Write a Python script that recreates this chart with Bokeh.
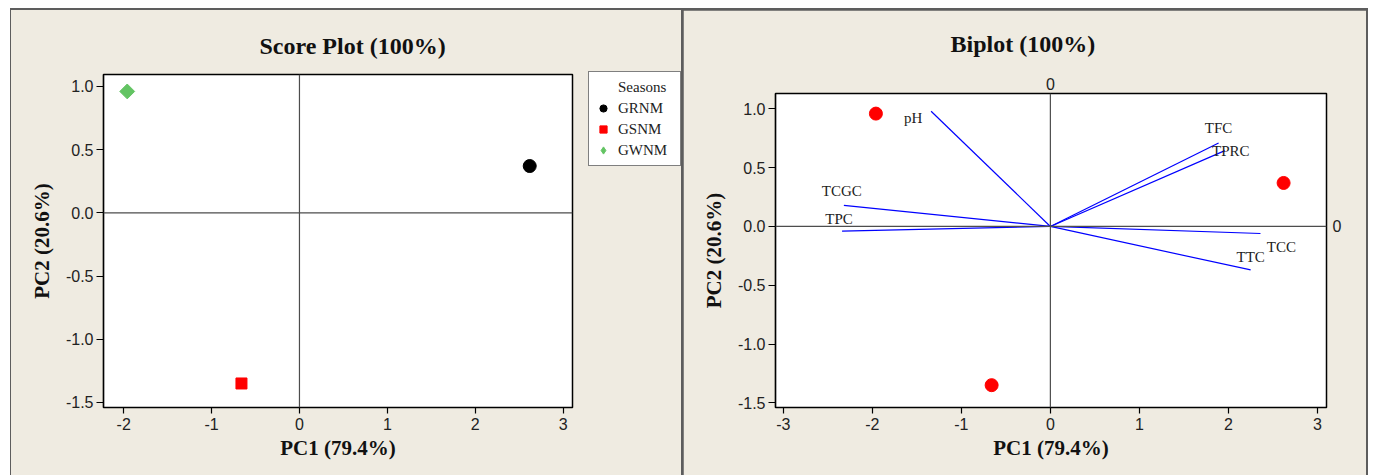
from bokeh.plotting import figure
from bokeh.layouts import row
from bokeh.models import (Span, Legend, LegendItem, LinearAxis, Range1d,
                          FixedTicker, ColumnDataSource)
from bokeh.core.properties import value
from bokeh.embed import file_html
from bokeh.resources import INLINE

# --- PCA scores (one point per season) ---
seasons = ["GRNM", "GSNM", "GWNM"]
pc1_scores = [2.62, -0.66, -1.96]
pc2_scores = [0.37, -1.35, 0.96]

# --- PCA loadings (biplot vectors) ---
variables = ["pH", "TCGC", "TPC", "TFC", "TPRC", "TCC", "TTC"]
load_pc1 = [-1.34, -2.32, -2.34, 1.89, 1.96, 2.36, 2.25]
load_pc2 = [0.98, 0.18, -0.04, 0.71, 0.645, -0.06, -0.37]

# --- axis ticks ---
score_x_ticks = [-2, -1, 0, 1, 2, 3]
score_x_labels = ["-2", "-1", "0", "1", "2", "3"]
biplot_x_ticks = [-3, -2, -1, 0, 1, 2, 3]
biplot_x_labels = ["-3", "-2", "-1", "0", "1", "2", "3"]
y_ticks = [-1.5, -1.0, -0.5, 0.0, 0.5, 1.0]
y_labels = ["-1.5", "-1.0", "-0.5", "0.0", "0.5", "1.0"]

BG = "#EFEBE1"
EDGE = "#5d5d5d"
SERIF = "Liberation Serif"
SANS = "Liberation Sans"


def make_figure(title=None, offset=0, standoff=10, **kw):
    p = figure(title=title, toolbar_location=None, output_backend="svg", **kw)
    if "frame_align" in p.properties():
        p.frame_align = False
    if title:
        p.title.align = "left"
        p.title.offset = offset
        p.title.standoff = standoff
        p.title.text_font = SERIF
        p.title.text_font_style = "bold"
        p.title.text_font_size = "24px"
        p.title.text_color = "#111111"
    return p


def bare_axis(ticks, labels, standoff):
    ax = LinearAxis(ticker=FixedTicker(ticks=ticks), major_label_overrides=dict(zip(ticks, labels)))
    ax.axis_line_color = None
    ax.major_tick_line_color = None
    ax.minor_tick_line_color = None
    ax.major_tick_out = 0
    ax.major_tick_in = 0
    ax.major_label_standoff = standoff
    ax.major_label_text_font = SANS
    ax.major_label_text_font_size = "16px"
    ax.major_label_text_color = "#222222"
    return ax


def style(p, xt, xl):
    p.background_fill_color = "white"
    p.border_fill_color = BG
    p.outline_line_color = "black"
    p.outline_line_width = 1.5
    p.grid.visible = False
    p.xaxis.ticker = FixedTicker(ticks=xt)
    p.xaxis.major_label_overrides = dict(zip(xt, xl))
    p.yaxis.ticker = FixedTicker(ticks=y_ticks)
    p.yaxis.major_label_overrides = dict(zip(y_ticks, y_labels))
    for ax in (p.xaxis, p.yaxis):
        ax.axis_line_color = "black"
        ax.axis_line_width = 1.2
        ax.major_tick_line_color = "black"
        ax.major_tick_line_width = 1.2
        ax.major_tick_in = 0
        ax.minor_tick_line_color = None
        ax.major_label_text_font = SANS
        ax.major_label_text_font_size = "16px"
        ax.major_label_text_color = "#222222"
        ax.axis_label_text_font = SERIF
        ax.axis_label_text_font_style = "bold"
        ax.axis_label_text_font_size = "21px"
        ax.axis_label_text_color = "#111111"
    p.xaxis.major_tick_out = 6
    p.xaxis.major_label_standoff = 4
    p.xaxis.axis_label_standoff = 3
    p.yaxis.major_tick_out = 7
    p.yaxis.major_label_standoff = 3
    p.yaxis.axis_label_standoff = 9
    p.xaxis.axis_label = "PC1 (79.4%)"
    p.yaxis.axis_label = "PC2 (20.6%)"
    p.add_layout(Span(location=0, dimension="width", line_color="#4d4d4d", line_width=1.2))
    p.add_layout(Span(location=0, dimension="height", line_color="#4d4d4d", line_width=1.2))


# ---------------- Score plot ----------------
p1 = make_figure("Score Plot (100%)", 156, 32,
                 width=563, height=465, min_border_left=92, min_border_right=2,
                 min_border_top=64, min_border_bottom=68, x_range=(-2.23, 3.107),
                 y_range=(-1.54, 1.094))
style(p1, score_x_ticks, score_x_labels)

markers = {
    "GRNM": dict(marker="circle", size=13, color="black", angle=0),
    "GSNM": dict(marker="square", size=11, color="#FF0000", angle=0),
    "GWNM": dict(marker="square", size=10.5, color="#63C463", angle=0.785398),
}
for i, name in enumerate(seasons):
    m = markers[name]
    p1.scatter(x=[pc1_scores[i]], y=[pc2_scores[i]], marker=m["marker"], size=m["size"],
               fill_color=m["color"], line_color=m["color"], angle=m["angle"])

# ---------------- Legend strip beside the score plot ----------------
pl = make_figure(width=107, height=465, min_border=0, min_border_left=0, min_border_right=0,
                 min_border_top=0, min_border_bottom=0,
                 x_range=Range1d(-2.23, 3.107), y_range=Range1d(-1.54, 1.094))
pl.axis.visible = False
pl.grid.visible = False
pl.outline_line_color = None
pl.background_fill_color = BG
pl.border_fill_color = BG

swatches = {
    "GRNM": dict(marker="circle", size=9),
    "GSNM": dict(marker="square", size=8),
    "GWNM": dict(marker="diamond", size=14),
}
blank = pl.scatter(x=[0], y=[0], size=1, fill_alpha=0, line_alpha=0, visible=False)
items = [LegendItem(label="Seasons", renderers=[blank])]
for i, name in enumerate(seasons):
    s = swatches[name]
    c = markers[name]["color"]
    sw = pl.scatter(x=[pc1_scores[i]], y=[pc2_scores[i]], marker=s["marker"], size=s["size"],
                    fill_color=c, line_color=c, visible=False)
    items.append(LegendItem(label=name, renderers=[sw]))

legend = Legend(items=items, location=(14, 309), margin=0, padding=5, spacing=1,
                glyph_width=18, glyph_height=20, label_height=20, label_width=57,
                label_standoff=6, label_text_font=SERIF, label_text_font_size="15px",
                label_text_color="#222222", border_line_color="black",
                border_line_width=1.5, background_fill_color="white",
                background_fill_alpha=1.0, inactive_fill_alpha=0.0)
pl.add_layout(legend)

# ---------------- Biplot ----------------
p2 = make_figure("Biplot (100%)", 175, 36,
                 width=683, height=465, min_border_left=92, min_border_right=40,
                 min_border_top=83, min_border_bottom=68, x_range=(-3.088, 3.102),
                 y_range=(-1.54, 1.131))
style(p2, biplot_x_ticks, biplot_x_labels)

# zero markers on the top and right edges
p2.add_layout(bare_axis([0], ["0"], 4), "above")
p2.add_layout(bare_axis([0], ["0"], 6), "right")

vec = ColumnDataSource(dict(
    x0=[0] * len(variables), y0=[0] * len(variables),
    x1=load_pc1, y1=load_pc2, name=variables,
    dx=[-18, -2, -3, 0, 6, 21, 0],
    dy=[7, -14, -12, -15, 0, 13, -13],
))
p2.segment(x0="x0", y0="y0", x1="x1", y1="y1", source=vec, line_color="#0000FF", line_width=1.2)
p2.text(x="x1", y="y1", text="name", x_offset="dx", y_offset="dy", source=vec,
        text_font=value(SERIF), text_font_size="15px", text_color="#222222",
        text_align="center", text_baseline="middle")
p2.scatter(x=pc1_scores, y=pc2_scores, marker="circle", size=13,
           fill_color="#FF0000", line_color="#FF0000")

# panels: score plot + legend share one beige panel, biplot sits in the other
left_panel = row(p1, pl, margin=(2, 0, 0, 1), styles={"background-color": BG})
p2.margin = (2, 2, 0, 2)
layout = row(left_panel, p2, margin=(8, 0, 0, 10), styles={"background-color": EDGE})

open("out.html", "w").write(file_html(layout, INLINE))
